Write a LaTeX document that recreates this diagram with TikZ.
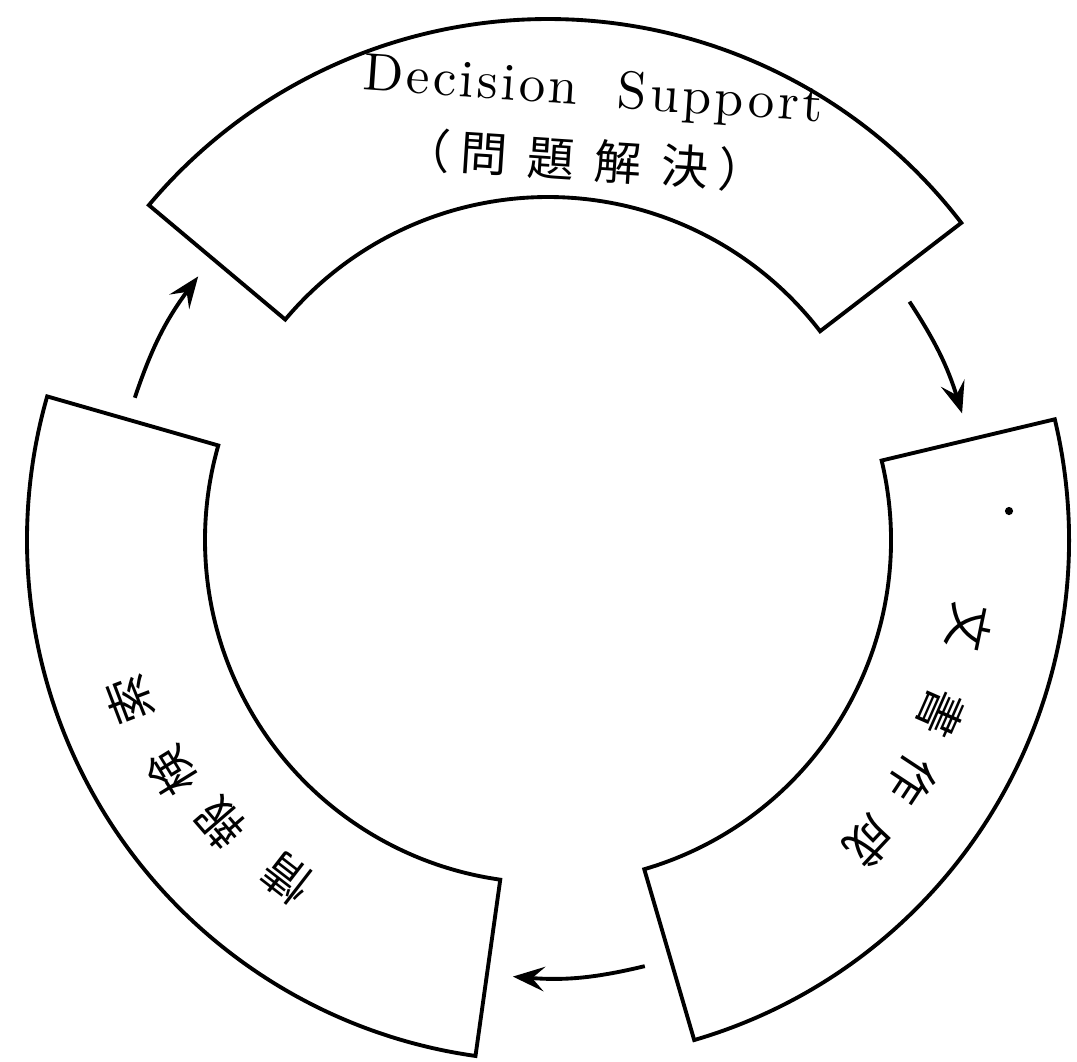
\documentclass[tikz,border=0pt]{standalone}
\usepackage{fontspec}
\usepackage{tikz}
\usetikzlibrary{arrows.meta}
\newfontfamily\jpfont{Noto Sans CJK JP}
\newfontfamily\decfont{lmroman10-regular.otf}[LetterSpace=6]

\begin{document}
\begin{tikzpicture}[line width=1.1pt, >={Stealth[length=9pt,width=7pt,inset=3.5pt]},
	kanji/.style={font=\jpfont\fontsize{13.4}{14}\selectfont, inner sep=0pt},
	latin/.style={font=\decfont\fontsize{15}{18}\selectfont, inner sep=0pt}]
			\useasboundingbox (-5.48,-5.21) rectangle (5.29,5.40);
			% the three ring pieces
			\draw (37.5:5.21) arc[start angle=37.5, end angle=140, radius=5.21]--(140:3.43) arc[start angle=140, end angle=37.5, radius=3.43]--cycle;
			\draw (164:5.21) arc[start angle=164, end angle=262, radius=5.21]--(262:3.43) arc[start angle=262, end angle=164, radius=3.43]--cycle;
			\draw (-73.7:5.21) arc[start angle=-73.7, end angle=13.4, radius=5.21]--(13.4:3.43) arc[start angle=13.4, end angle=-73.7, radius=3.43]--cycle;
			% top piece
			\node[latin, anchor=base, rotate=-4] (dec) at (0.44,4.34) {Decision\hspace{4mm}Support};
			\node[kanji, rotate=-3.7] (mon) at (0.37,3.80) {（\hspace{1mm}問\hspace{2mm}題\hspace{2mm}解\hspace{2mm}決\hspace{1mm}）};
			% left piece
			\node[kanji, rotate=142.3] (j1) at (232.3:4.27) {情};
			\node[kanji, rotate=130.8] (j2) at (220.8:4.33) {報};
			\node[kanji, rotate=121.7] (j3) at (211.7:4.42) {検};
			\node[kanji, rotate=110.9] (j4) at (200.9:4.48) {索};
			% right piece
			\node[kanji, rotate=-101.7] (b1) at (-11.7:4.30) {文};
			\node[kanji, rotate=-113.7] (b2) at (-23.7:4.30) {書};
			\node[kanji, rotate=-123.4] (b3) at (-33.4:4.36) {作};
			\node[kanji, rotate=-133.2] (b4) at (-43.2:4.41) {成};
			\filldraw[black] (4.61,0.29) circle (0.02);
			% arrows
			\coordinate (ret-out) at (161:4.37);
			\coordinate (dec-in) at (143:4.38);
			\coordinate (dec-out) at (33.4:4.33);
			\coordinate (doc-in) at (17:4.33);
			\coordinate (doc-out) at (-77.2:4.37);
			\coordinate (ret-in) at (-94.6:4.38);
			\draw[->] (ret-out) to[bend left=9] (dec-in);
			\draw[->] (dec-out) to[bend left=8] (doc-in);
			\draw[->] (doc-out) to[bend left=9] (ret-in);
		\end{tikzpicture}
\end{document}
